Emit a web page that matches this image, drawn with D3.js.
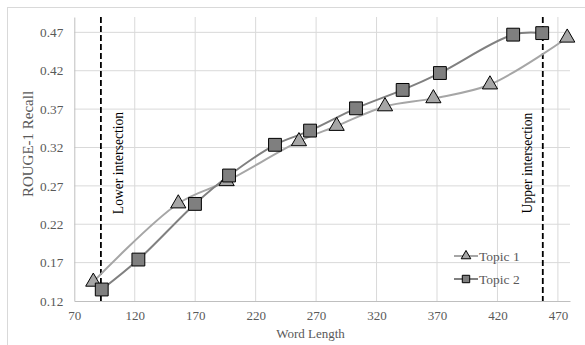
<!DOCTYPE html>
<html>
<head>
<meta charset="utf-8">
<script src="https://cdn.jsdelivr.net/npm/d3@7"></script>
<style>
  body { margin: 0; background: #fff; }
  svg text { font-family: "Liberation Serif", "Times New Roman", serif; }
</style>
</head>
<body>
<div id="chart"></div>
<script>
// data
var topic1X = [85.7, 156, 196, 255.8, 287, 327, 367, 413.8, 477.7];
var topic1Y = [0.145, 0.247, 0.276, 0.328, 0.348, 0.3735, 0.384, 0.402, 0.463];
var topic2X = [92.7, 123, 169.8, 198, 236, 265, 303, 341.6, 372.4, 433, 457];
var topic2Y = [0.135, 0.174, 0.2465, 0.2835, 0.3235, 0.342, 0.371, 0.395, 0.417, 0.467, 0.469];
var xTicks = [70, 120, 170, 220, 270, 320, 370, 420, 470];
var yTicks = [0.12, 0.17, 0.22, 0.27, 0.32, 0.37, 0.42, 0.47];
var lowerX = 92;
var upperX = 457.5;

var width = 585, height = 345;

var svg = d3.select('#chart').append('svg')
  .attr('width', width)
  .attr('height', height);

// chart border
svg.append('rect')
  .attr('x', 7.5).attr('y', 7.5)
  .attr('width', 600).attr('height', 360)
  .attr('fill', 'none')
  .attr('stroke', '#d9d9d9');

var xScale = d3.scaleLinear().domain([70, 480]).range([74.3, 570]);
var yScale = d3.scaleLinear().domain([0.12, 0.49]).range([301, 17]);

/* grid */
var grid = svg.append('g');
grid.selectAll('.hgrid')
  .data(yTicks.slice(1)).enter()
  .append('line')
  .attr('x1', xScale(70)).attr('x2', xScale(480))
  .attr('y1', d => yScale(d)).attr('y2', d => yScale(d))
  .attr('stroke', '#d9d9d9').attr('stroke-width', 1);
grid.selectAll('.vgrid')
  .data(xTicks.slice(1)).enter()
  .append('line')
  .attr('x1', d => xScale(d)).attr('x2', d => xScale(d))
  .attr('y1', yScale(0.12)).attr('y2', yScale(0.49))
  .attr('stroke', '#d9d9d9').attr('stroke-width', 1);

/* axes */
var xAxis = d3.axisBottom(xScale).tickValues(xTicks).tickSize(0).tickPadding(10)
  .tickFormat(d3.format('d'));
var yAxis = d3.axisLeft(yScale).tickValues(yTicks).tickSize(0).tickPadding(11)
  .tickFormat(d3.format('.2f'));

var gx = svg.append('g')
  .attr('transform', `translate(0, ${yScale(0.12)})`)
  .call(xAxis);
gx.select('.domain').attr('stroke', '#bfbfbf');
gx.selectAll('text').attr('fill', '#595959').attr('font-size', 13)
  .style('font-family', '"Liberation Serif", serif');

var gy = svg.append('g')
  .attr('transform', `translate(${xScale(70)}, 0)`)
  .call(yAxis);
gy.select('.domain').attr('stroke', '#bfbfbf');
gy.selectAll('text').attr('fill', '#595959').attr('font-size', 13.3)
  .style('font-family', '"Liberation Serif", serif');

svg.append('text')
  .attr('x', 310.5)
  .attr('y', 338)
  .attr('text-anchor', 'middle')
  .attr('fill', '#595959')
  .attr('font-size', 13)
  .text('Word Length');

svg.append('text')
  .attr('transform', 'translate(33, 144) rotate(-90)')
  .attr('text-anchor', 'middle')
  .attr('fill', '#595959')
  .attr('font-size', 15)
  .text('ROUGE-1 Recall');

/* intersection lines */
[lowerX, upperX].forEach(function (v) {
  svg.append('line')
    .attr('x1', xScale(v)).attr('x2', xScale(v))
    .attr('y1', yScale(0.49)).attr('y2', yScale(0.12))
    .attr('stroke', '#000')
    .attr('stroke-width', 1.8)
    .attr('stroke-dasharray', '6,3');
});

svg.append('text')
  .attr('transform', `translate(${xScale(lowerX) + 22}, 163) rotate(-90)`)
  .attr('text-anchor', 'middle')
  .attr('fill', '#000')
  .attr('font-size', 13.6)
  .text('Lower intersection');

svg.append('text')
  .attr('transform', `translate(${xScale(upperX) - 11}, 163) rotate(-90)`)
  .attr('text-anchor', 'middle')
  .attr('fill', '#000')
  .attr('font-size', 13.6)
  .text('Upper intersection');

/* series */
var series = [
  { name: 'Topic 1', xs: topic1X, ys: topic1Y, color: '#a6a6a6', fill: '#a6a6a6', shape: d3.symbolTriangle },
  { name: 'Topic 2', xs: topic2X, ys: topic2Y, color: '#808080', fill: '#7f7f7f', shape: d3.symbolSquare }
];

var line = d3.line()
  .x(d => xScale(d[0]))
  .y(d => yScale(d[1]))
  .curve(d3.curveCatmullRom.alpha(0.5));

series.forEach(function (s) {
  var pts = s.xs.map((x, i) => [x, s.ys[i]]);
  svg.append('path')
    .attr('d', line(pts))
    .attr('fill', 'none')
    .attr('stroke', s.color)
    .attr('stroke-width', 2);
});

series.forEach(function (s) {
  var pts = s.xs.map((x, i) => [x, s.ys[i]]);
  var size = s.shape === d3.symbolSquare ? 165 : 100;
  svg.append('g').selectAll('path')
    .data(pts).enter()
    .append('path')
    .attr('transform', d => `translate(${xScale(d[0])}, ${yScale(d[1])})`)
    .attr('d', d3.symbol().type(s.shape).size(size))
    .attr('fill', s.fill)
    .attr('stroke', '#000')
    .attr('stroke-width', 1);
});

/* legend */
var legend = svg.append('g')
  .attr('transform', 'translate(454, 256)')
  .selectAll('g')
  .data(series).enter()
  .append('g')
  .attr('transform', (d, i) => `translate(0, ${i * 23})`);

legend.append('line')
  .attr('x1', 0).attr('x2', 24)
  .attr('stroke', d => d.color)
  .attr('stroke-width', 2);
legend.append('path')
  .attr('transform', 'translate(12, 0)')
  .attr('d', d => d3.symbol().type(d.shape).size(d.shape === d3.symbolSquare ? 55 : 40)())
  .attr('fill', d => d.fill)
  .attr('stroke', '#000')
  .attr('stroke-width', 1);
legend.append('text')
  .attr('x', 25)
  .attr('y', 0)
  .attr('dy', '0.35em')
  .attr('fill', '#595959')
  .attr('font-size', 13.5)
  .text(d => d.name);
</script>
</body>
</html>
